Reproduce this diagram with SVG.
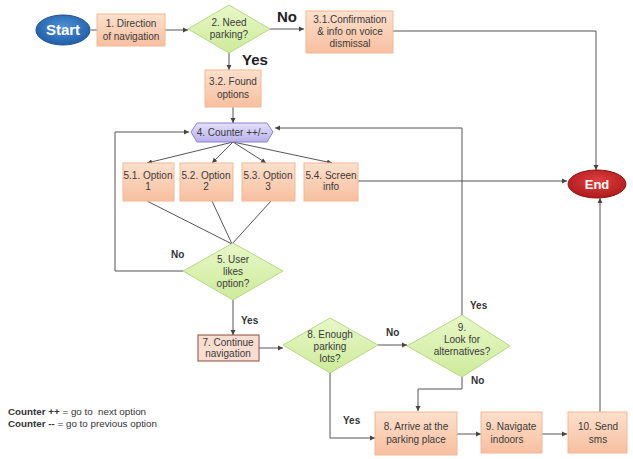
<svg xmlns="http://www.w3.org/2000/svg" width="633" height="459" viewBox="0 0 633 459">
<defs>
<linearGradient id="peach" x1="0" y1="0" x2="0" y2="1"><stop offset="0" stop-color="#fde0cc"/><stop offset="1" stop-color="#f7bf9f"/></linearGradient>
<linearGradient id="green" x1="0" y1="0" x2="0" y2="1"><stop offset="0" stop-color="#e8f7c8"/><stop offset="1" stop-color="#cdeb9a"/></linearGradient>
<linearGradient id="lav" x1="0" y1="0" x2="0" y2="1"><stop offset="0" stop-color="#e4e0fb"/><stop offset="1" stop-color="#b9b1ea"/></linearGradient>
<radialGradient id="blue" cx="0.5" cy="0.4" r="0.6"><stop offset="0" stop-color="#4f8fd6"/><stop offset="1" stop-color="#1f5fa8"/></radialGradient>
<radialGradient id="red" cx="0.5" cy="0.4" r="0.6"><stop offset="0" stop-color="#e04040"/><stop offset="1" stop-color="#b01a1c"/></radialGradient>
<marker id="ah" markerWidth="6" markerHeight="6" refX="5" refY="3" orient="auto" markerUnits="userSpaceOnUse"><path d="M0,0.5 L5,3 L0,5.5 z" fill="#444"/></marker>
</defs>
<style>
.box{fill:url(#peach);stroke:#f2b894;stroke-width:1}
.dia{fill:url(#green);stroke:#b6d984;stroke-width:1}
.t{font-family:"Liberation Sans",Arial,sans-serif;font-size:10px;fill:#3a3a3a;text-anchor:middle}
.lbl{font-family:"Liberation Sans",Arial,sans-serif;font-size:10px;font-weight:bold;fill:#333}
.big{font-family:"Liberation Sans",Arial,sans-serif;font-size:15px;font-weight:bold;fill:#222}
.c{fill:none;stroke:#555;stroke-width:1}
.w{font-family:"Liberation Sans",Arial,sans-serif;font-weight:bold;fill:#fff;text-anchor:middle}
</style>
<g id="connectors">
<path class="c" d="M91,30 H97"/>
<path class="c" d="M165,30 H188" marker-end="url(#ah)"/>
<path class="c" d="M270,29 H304" marker-end="url(#ah)"/>
<path class="c" d="M393,31 H596 V170" marker-end="url(#ah)"/>
<path class="c" d="M229,53 V70" marker-end="url(#ah)"/>
<path class="c" d="M233,107 V123" marker-end="url(#ah)"/>
<path class="c" d="M233,142 L147,163" marker-end="url(#ah)"/>
<path class="c" d="M233,142 L212,163" marker-end="url(#ah)"/>
<path class="c" d="M233,142 L266,163" marker-end="url(#ah)"/>
<path class="c" d="M233,142 L332,163" marker-end="url(#ah)"/>
<path class="c" d="M358,181 H567" marker-end="url(#ah)"/>
<path class="c" d="M147,201 L232,244"/>
<path class="c" d="M212,201 L232,244"/>
<path class="c" d="M271,201 L232,244"/>
<path class="c" d="M183,271 H115 V132 H189" marker-end="url(#ah)"/>
<path class="c" d="M233,300 V335" marker-end="url(#ah)"/>
<path class="c" d="M259,348 H283" marker-end="url(#ah)"/>
<path class="c" d="M378,345 H407" marker-end="url(#ah)"/>
<path class="c" d="M462,315 V128 H275" marker-end="url(#ah)"/>
<path class="c" d="M462,377 V389 H418 V411" marker-end="url(#ah)"/>
<path class="c" d="M330,372 V438 H375" marker-end="url(#ah)"/>
<path class="c" d="M457,434 H481" marker-end="url(#ah)"/>
<path class="c" d="M542,434 H567" marker-end="url(#ah)"/>
<path class="c" d="M600,412 V198" marker-end="url(#ah)"/>
</g>
<g id="start"><ellipse cx="63" cy="30" rx="27" ry="15" fill="url(#blue)" stroke="#1a4f8c"/><text class="w" x="63" y="35" font-size="15">Start</text></g>
<g id="n1"><rect class="box" x="97" y="14" width="68" height="32"/><text class="t" x="131" y="27">1. Direction</text><text class="t" x="131" y="40">of navigation</text></g>
<g id="n2"><polygon class="dia" points="229,5 270,29 229,53 188,29"/><text class="t" x="229" y="26">2. Need</text><text class="t" x="229" y="38">parking?</text></g>
<text class="big" x="277" y="22">No</text>
<text class="big" x="242" y="65">Yes</text>
<g id="n31"><rect class="box" x="306" y="11" width="87" height="42"/><text class="t" x="350" y="23">3.1.Confirmation</text><text class="t" x="350" y="35">&amp; info on voice</text><text class="t" x="350" y="47">dismissal</text></g>
<g id="n32"><rect class="box" x="205" y="70" width="56" height="37"/><text class="t" x="233" y="85">3.2. Found</text><text class="t" x="233" y="98">options</text></g>
<g id="n4"><polygon points="191,132 197,123 267,123 273,132 267,142 197,142" fill="url(#lav)" stroke="#8f82cc"/><text class="t" x="232" y="136" font-size="9">4. Counter ++/--</text></g>
<g id="n51"><rect class="box" x="123" y="163" width="51" height="38"/><text class="t" x="148" y="179">5.1. Option</text><text class="t" x="148" y="190">1</text></g>
<g id="n52"><rect class="box" x="180" y="163" width="53" height="38"/><text class="t" x="206" y="179">5.2. Option</text><text class="t" x="206" y="190">2</text></g>
<g id="n53"><rect class="box" x="242" y="163" width="53" height="38"/><text class="t" x="268" y="179">5.3. Option</text><text class="t" x="268" y="190">3</text></g>
<g id="n54"><rect class="box" x="304" y="163" width="54" height="38"/><text class="t" x="331" y="179">5.4. Screen</text><text class="t" x="331" y="190">info</text></g>
<g id="end"><ellipse cx="597" cy="184" rx="29" ry="14" fill="url(#red)" stroke="#8f1416"/><text class="w" x="597" y="189" font-size="13">End</text></g>
<g id="n5"><polygon class="dia" points="233,243 283,271 233,300 183,271"/><text class="t" x="233" y="263">5. User</text><text class="t" x="233" y="275">likes</text><text class="t" x="233" y="287">option?</text></g>
<text class="lbl" x="171" y="258">No</text>
<text class="lbl" x="241" y="324">Yes</text>
<g id="n7"><rect x="198" y="335" width="61" height="26" fill="#f8ddd0" stroke="#8e4c3c"/><text class="t" x="228" y="346" font-size="9">7. Continue</text><text class="t" x="228" y="357" font-size="9">navigation</text></g>
<g id="n8"><polygon class="dia" points="330,318 378,345 330,373 283,345"/><text class="t" x="330" y="338">8. Enough</text><text class="t" x="330" y="350">parking</text><text class="t" x="330" y="362">lots?</text></g>
<text class="lbl" x="386" y="336">No</text>
<g id="n9"><polygon class="dia" points="462,315 510,346 462,377 407,346"/><text class="t" x="462" y="331">9.</text><text class="t" x="462" y="343">Look for</text><text class="t" x="462" y="355">alternatives?</text></g>
<text class="lbl" x="470" y="309">Yes</text>
<text class="lbl" x="471" y="384">No</text>
<text class="lbl" x="343" y="424">Yes</text>
<g id="n8b"><rect class="box" x="375" y="412" width="82" height="43"/><text class="t" x="416" y="430">8. Arrive at the</text><text class="t" x="416" y="443">parking place</text></g>
<g id="n9b"><rect class="box" x="481" y="412" width="61" height="41"/><text class="t" x="511" y="430">9. Navigate</text><text class="t" x="507" y="443">indoors</text></g>
<g id="n10"><rect class="box" x="568" y="412" width="59" height="41"/><text class="t" x="598" y="430">10. Send</text><text class="t" x="598" y="443">sms</text></g>
<g id="legend" font-family="'Liberation Sans',Arial,sans-serif" font-size="9.8" fill="#333"><text x="8" y="415" xml:space="preserve"><tspan font-weight="bold">Counter ++</tspan> = go to  next option</text><text x="8" y="427"><tspan font-weight="bold">Counter --</tspan> = go to previous option</text></g>
</svg>
